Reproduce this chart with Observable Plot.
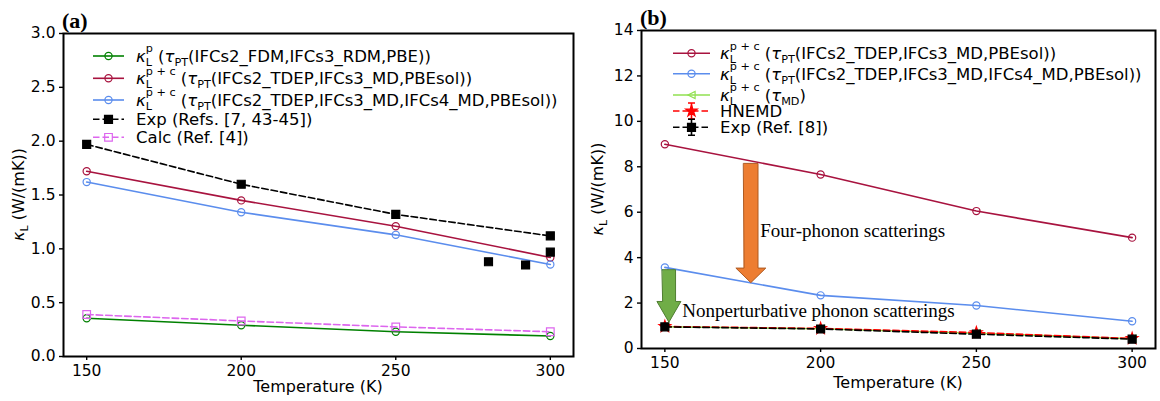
<!DOCTYPE html>
<html><head><meta charset="utf-8">
<script src="https://cdn.jsdelivr.net/npm/d3@7"></script>
<script src="https://cdn.jsdelivr.net/npm/@observablehq/plot@0.6"></script>
<style>
body{margin:0;background:#fff;}
#wrap{position:relative;width:1160px;height:401px;overflow:hidden;background:#fff;}
#pa,#pb{position:absolute;top:0;}
#pa{left:0px}#pb{left:580px}
text{white-space:pre;}
</style></head><body><div id="wrap"><div id="pa"></div><div id="pb"></div></div>
<script>
// ---------- data ----------
const temps = [150, 200, 250, 300];
// panel (a)
const aPhonon = [0.355, 0.29, 0.23, 0.19];
const aTdep3 = [1.72, 1.45, 1.21, 0.92];
const aTdep4 = [1.62, 1.34, 1.13, 0.855];
const aExp = [1.97, 1.60, 1.32, 1.12];
const aExpExtraT = [280, 292, 300];
const aExpExtra = [0.88, 0.85, 0.97];
const aCalc = [0.39, 0.33, 0.275, 0.23];
// panel (b)
const bTdep3 = [8.99, 7.66, 6.05, 4.88];
const bTdep4 = [3.57, 2.34, 1.89, 1.20];
const bMD = [0.96, 0.87, 0.67, 0.43];
const bHNEMD = [0.97, 0.88, 0.70, 0.44];
const bExp = [0.95, 0.86, 0.63, 0.41];
// ticks
const xTicks = [150, 200, 250, 300];
const aYTicks = [0, 0.5, 1, 1.5, 2, 2.5, 3];
const bYTicks = [0, 2, 4, 6, 8, 10, 12, 14];
// annotations (b)
const orangeArrow = {x: 177.6, top: 8.15, headStart: 3.54, tip: 2.9, sw: 2.3, hw: 4.8};
const greenArrow = {x: 151.3, top: 3.47, headStart: 2.07, tip: 1.16, sw: 2.13, hw: 3.85};
const notes = [
  {x: 180.6, y: 5.17, text: "Four-phonon scatterings"},
  {x: 155.6, y: 1.67, text: "Nonperturbative phonon scatterings"}
];

// ---------- styles ----------
const C = {green: "#008000", crimson: "#a8133f", blue: "#5b8ded", black: "#000", magenta: "#dd66ee", lime: "#90e050", red: "#ff0000"};
const DASH = "6.5,3";
const rows = (xs, ys) => xs.map((x, i) => ({x, y: ys[i]}));
const triLeft = {draw(ctx, size) { const r = Math.sqrt(size / Math.PI); ctx.moveTo(-r, 0); ctx.lineTo(r, -r); ctx.lineTo(r, r); ctx.closePath(); }};
function arrowPts(a) {
  return [
    {x: a.x - a.sw, y: a.top}, {x: a.x + a.sw, y: a.top}, {x: a.x + a.sw, y: a.headStart},
    {x: a.x + a.hw, y: a.headStart}, {x: a.x, y: a.tip}, {x: a.x - a.hw, y: a.headStart},
    {x: a.x - a.sw, y: a.headStart}
  ];
}

function series(data, color, opts = {}) {
  const m = [];
  if (opts.line !== false) m.push(Plot.line(data, {x: "x", y: "y", stroke: color, strokeWidth: 1.6, strokeDasharray: opts.dash || null}));
  m.push(Plot.dot(data, {x: "x", y: "y", symbol: opts.symbol || "circle", r: opts.r || 3.6,
    fill: opts.fill || "none", stroke: color, strokeWidth: 1.2}));
  return m;
}

const commonAxes = (yTicks, fmt) => [
  Plot.axisX({ticks: xTicks, tickSize: 4, tickPadding: 4, label: null, fontSize: 15.5, strokeWidth: 1.4}),
  Plot.axisY({ticks: yTicks, tickFormat: fmt, tickSize: 4, tickPadding: 4, label: null, fontSize: 15.5, strokeWidth: 1.4}),
  Plot.frame({stroke: "black", strokeWidth: 2})
];

// ---------- panel (a) ----------
const plotA = Plot.plot({
  width: 580, height: 401,
  marginLeft: 63, marginRight: 7, marginTop: 33, marginBottom: 45,
  style: {fontFamily: "DejaVu Sans", fontSize: "15.5px", background: "white", color: "black"},
  x: {domain: [142.5, 307.5]},
  y: {domain: [0, 3]},
  marks: [
    ...series(rows(temps, aPhonon), C.green),
    ...series(rows(temps, aTdep3), C.crimson),
    ...series(rows(temps, aTdep4), C.blue),
    ...series(rows(temps, aExp), C.black, {dash: DASH, symbol: "square", fill: C.black, r: 4.5}),
    ...series(rows(aExpExtraT, aExpExtra), C.black, {line: false, symbol: "square", fill: C.black, r: 4.5}),
    ...series(rows(temps, aCalc), C.magenta, {dash: DASH, symbol: "square", r: 4.3}),
    ...commonAxes(aYTicks, d => d.toFixed(1))
  ]
});
document.getElementById("pa").appendChild(plotA);

// ---------- panel (b) ----------
const plotB = Plot.plot({
  width: 580, height: 401,
  marginLeft: 61, marginRight: 5, marginTop: 30, marginBottom: 53,
  style: {fontFamily: "DejaVu Sans", fontSize: "15.5px", background: "white", color: "black"},
  x: {domain: [142.5, 307.5]},
  y: {domain: [0, 14]},
  marks: [
    ...series(rows(temps, bTdep3), C.crimson),
    ...series(rows(temps, bTdep4), C.blue),
    ...series(rows(temps, bMD), C.lime, {symbol: triLeft, r: 3.6}),
    ...series(rows(temps, bHNEMD), C.red, {dash: DASH, symbol: "star", fill: C.red, r: 3.6}),
    ...series(rows(temps, bExp), C.black, {dash: DASH, symbol: "square", fill: C.black, r: 4.5}),
    Plot.line(arrowPts(orangeArrow), {x: "x", y: "y", curve: "linear-closed", fill: "#ed7d31", stroke: "#ae5a21", strokeWidth: 1}),
    Plot.line(arrowPts(greenArrow), {x: "x", y: "y", curve: "linear-closed", fill: "#70ad47", stroke: "#507e32", strokeWidth: 1}),
    Plot.text(notes, {x: "x", y: "y", text: "text", textAnchor: "start", fontFamily: "Liberation Serif", fontSize: 19, fill: "black"}),
    ...commonAxes(bYTicks, d => String(d))
  ]
});
document.getElementById("pb").appendChild(plotB);

// ---------- rich text helpers ----------
function rich(g, x, y, fs, parts) {
  let cx = x;
  for (const p of parts) {
    if (p.sup !== undefined || p.sub !== undefined) {
      let w = 0;
      const ss = 0.68 * fs;
      if (p.sup !== undefined) {
        const t = g.append("text").attr("x", cx).attr("y", y - 0.6 * fs).attr("font-size", ss).text(p.sup);
        w = Math.max(w, t.node().getComputedTextLength());
      }
      if (p.sub !== undefined) {
        const t = g.append("text").attr("x", cx).attr("y", y + 0.22 * fs).attr("font-size", ss).text(p.sub);
        w = Math.max(w, t.node().getComputedTextLength());
      }
      cx += w;
    } else {
      const t = g.append("text").attr("x", cx).attr("y", y).attr("font-size", fs)
        .attr("font-style", p.i ? "italic" : "normal").text(p.t);
      cx += t.node().getComputedTextLength();
    }
  }
  return cx - x;
}

function decorate(svgNode, o) {
  const svg = d3.select(svgNode);
  const g = svg.append("g").attr("font-family", "DejaVu Sans").attr("fill", "black").attr("text-anchor", "start");
  // panel label
  g.append("text").attr("x", o.labelX).attr("y", o.labelY).attr("font-family", "Liberation Serif")
    .attr("font-weight", "bold").attr("font-size", 22).text(o.label);
  // y label
  const yl = g.append("g");
  const w = rich(yl, 0, 0, 16, [{t: "κ", i: true}, {sub: "L"}, {t: " (W/(mK))"}]);
  yl.attr("transform", `translate(${o.yLabelX},${o.yLabelY}) rotate(-90) translate(${-w / 2},0)`);
  // x label
  g.append("text").attr("x", o.xLabelX).attr("y", o.xLabelY).attr("font-size", 16)
    .attr("text-anchor", "middle").text("Temperature (K)");
  // legend
  const lg = svg.append("g").attr("font-family", "DejaVu Sans").attr("fill", "black").attr("text-anchor", "start");
  for (const e of o.legend) {
    const mx = (o.lx1 + o.lx2) / 2;
    lg.append("line").attr("x1", o.lx1).attr("x2", o.lx2).attr("y1", e.ly).attr("y2", e.ly)
      .attr("stroke", e.color).attr("stroke-width", 1.6).attr("stroke-dasharray", e.dash ? DASH : null);
    if (e.err) {
      lg.append("path").attr("d", `M${mx},${e.ly - 8}V${e.ly + 8}M${mx - 3.5},${e.ly - 8}H${mx + 3.5}M${mx - 3.5},${e.ly + 8}H${mx + 3.5}`)
        .attr("stroke", e.color).attr("stroke-width", 1.6).attr("fill", "none");
    }
    const r = e.r || 3.6;
    lg.append("path").attr("d", d3.symbol(e.symbol, Math.PI * r * r)())
      .attr("transform", `translate(${mx},${e.ly})`)
      .attr("fill", e.fill || "none").attr("stroke", e.color).attr("stroke-width", 1.2);
    rich(lg, o.tx, e.ly + 0.37 * o.fs, o.fs, e.parts);
  }
}

const kap = (sup) => [{t: "κ", i: true}, {sup, sub: "L"}, {t: " ("}, {t: "τ", i: true}, {sub: "PT"}];

decorate(plotA, {
  label: "(a)", labelX: 62, labelY: 28,
  yLabelX: 24, yLabelY: 194.5, xLabelX: 318, xLabelY: 392,
  lx1: 93, lx2: 124, tx: 136, fs: 16.5,
  legend: [
    {ly: 56, color: C.green, symbol: d3.symbolCircle, parts: [...kap("p"), {t: "(IFCs2_FDM,IFCs3_RDM,PBE))"}]},
    {ly: 78.3, color: C.crimson, symbol: d3.symbolCircle, parts: [...kap("p + c"), {t: "(IFCs2_TDEP,IFCs3_MD,PBEsol))"}]},
    {ly: 100, color: C.blue, symbol: d3.symbolCircle, parts: [...kap("p + c"), {t: "(IFCs2_TDEP,IFCs3_MD,IFCs4_MD,PBEsol))"}]},
    {ly: 119.3, color: C.black, dash: true, symbol: d3.symbolSquare, fill: C.black, r: 4.5, parts: [{t: "Exp (Refs. [7, 43-45])"}]},
    {ly: 137.3, color: C.magenta, dash: true, symbol: d3.symbolSquare, r: 4.3, parts: [{t: "Calc (Ref. [4])"}]}
  ]
});

decorate(plotB, {
  label: "(b)", labelX: 60, labelY: 25,
  yLabelX: 23, yLabelY: 189, xLabelX: 318, xLabelY: 388,
  lx1: 93, lx2: 130, tx: 140, fs: 16.5,
  legend: [
    {ly: 53.3, color: C.crimson, symbol: d3.symbolCircle, parts: [...kap("p + c"), {t: "(IFCs2_TDEP,IFCs3_MD,PBEsol))"}]},
    {ly: 73.8, color: C.blue, symbol: d3.symbolCircle, parts: [...kap("p + c"), {t: "(IFCs2_TDEP,IFCs3_MD,IFCs4_MD,PBEsol))"}]},
    {ly: 95, color: C.lime, symbol: triLeft, parts: [{t: "κ", i: true}, {sup: "p + c", sub: "L"}, {t: " ("}, {t: "τ", i: true}, {sub: "MD"}, {t: ")"}]},
    {ly: 111, color: C.red, dash: true, err: true, symbol: d3.symbolStar, fill: C.red, parts: [{t: "HNEMD"}]},
    {ly: 127.3, color: C.black, dash: true, err: true, symbol: d3.symbolSquare, fill: C.black, r: 4.5, parts: [{t: "Exp (Ref. [8])"}]}
  ]
});
</script></body></html>
